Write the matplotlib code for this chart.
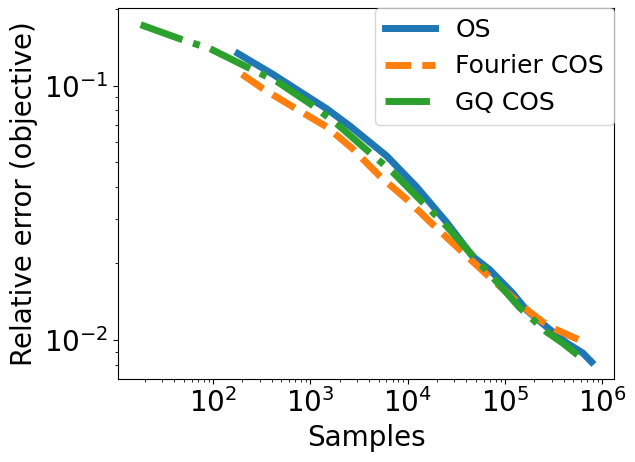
import matplotlib
matplotlib.use('Agg')
import matplotlib.pyplot as plt

# values (log-log)
os_samples = [180, 412, 1475, 2540, 6090, 12400, 25100, 46400, 69300,
              119000, 166000, 267000, 428000, 624000, 771000]
os_err = [0.134, 0.111, 0.0811, 0.0695, 0.0529, 0.0399, 0.0290, 0.0213, 0.0189,
          0.0153, 0.0131, 0.01125, 0.00973, 0.0089, 0.00819]

fourier_samples = [198, 326, 662, 1475, 2730, 5160, 9780, 18000, 34100, 64600,
                   119000, 178000, 243000, 338000, 516000, 702000]
fourier_err = [0.111, 0.0973, 0.0826, 0.0689, 0.0564, 0.0441, 0.0357, 0.0285,
               0.0227, 0.0181, 0.0147, 0.0129, 0.01178, 0.01096, 0.01019, 0.00973]

gq_samples = [18, 48, 93, 239, 453, 1035, 1870, 3890, 7020, 13300, 25100, 43200,
              78000, 141000, 267000, 389000, 555000]
gq_err = [0.174, 0.152, 0.140, 0.117, 0.104, 0.0841, 0.0708, 0.0554, 0.0457,
          0.0357, 0.0280, 0.0221, 0.0173, 0.0134, 0.01075, 0.00973, 0.00873]


def plot():
    fig = plt.figure(figsize=(6.35, 4.62), dpi=100)
    ax = fig.add_subplot(111)
    fig.subplots_adjust(left=0.186, right=0.967, top=0.983, bottom=0.180)

    ax.loglog(os_samples, os_err, '-', lw=5, label='OS')
    ax.loglog(fourier_samples, fourier_err, '--', lw=5, label='Fourier COS')
    ax.loglog(gq_samples, gq_err, '-.', lw=5, label='GQ COS')

    ax.set_xlabel('Samples', fontsize=20)
    ax.set_ylabel('Relative error (objective)', fontsize=20)
    ax.tick_params(axis='both', which='major', labelsize=20)

    ax.legend(fontsize=18, loc='upper right', borderaxespad=0)
    fig.savefig('out.png', dpi=100)


if __name__ == "__main__":
    plot()
